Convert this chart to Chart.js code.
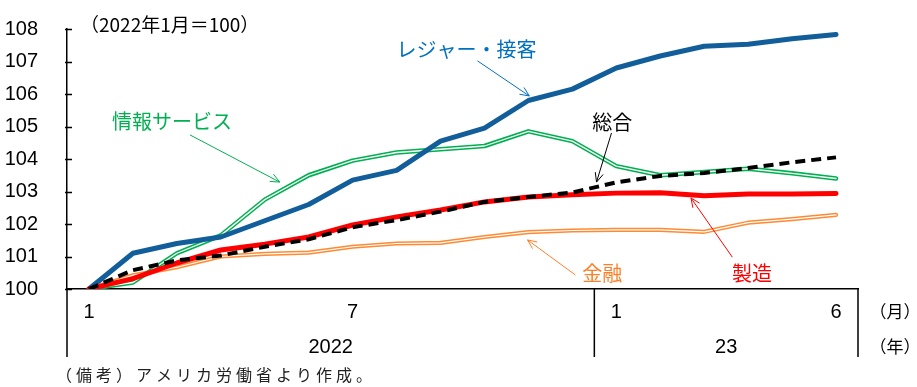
<!DOCTYPE html>
<html lang="ja">
<head>
<meta charset="utf-8">
<script src="https://cdn.jsdelivr.net/npm/chart.js@4.4.1/dist/chart.umd.min.js"></script>
<style>
  body { margin: 0; background: #fff; }
  #wrap { width: 917px; height: 387px; position: relative; }
</style>
</head>
<body>
<div id="wrap"><canvas id="emp-chart"></canvas></div>
<script>
// 2022/1 - 2023/6, index 2022/1 = 100
const months = ['1','2','3','4','5','6','7','8','9','10','11','12','1','2','3','4','5','6'];
const shownMonths = [0, 6, 12, 17];
const yearLabels = ['2022', '23'];
const yearStart = [0, 12];
const yTicks = [100, 101, 102, 103, 104, 105, 106, 107, 108];

const leisure = [100, 101.1, 101.4, 101.6, 102.1, 102.6, 103.35, 103.65, 104.55, 104.95, 105.8, 106.15, 106.8, 107.17, 107.47, 107.53, 107.7, 107.83];
const info    = [100, 100.2, 101.1, 101.65, 102.75, 103.5, 103.95, 104.2, 104.3, 104.4, 104.85, 104.55, 103.78, 103.5, 103.6, 103.7, 103.56, 103.4];
const total   = [100, 100.58, 100.88, 101.03, 101.3, 101.53, 101.9, 102.12, 102.38, 102.68, 102.83, 102.97, 103.28, 103.48, 103.57, 103.72, 103.9, 104.05];
const mfg     = [100, 100.32, 100.8, 101.2, 101.38, 101.6, 101.97, 102.22, 102.43, 102.68, 102.83, 102.9, 102.95, 102.96, 102.87, 102.92, 102.92, 102.94];
const finance = [100, 100.42, 100.67, 101.0, 101.08, 101.12, 101.3, 101.4, 101.42, 101.6, 101.75, 101.8, 101.82, 101.82, 101.76, 102.04, 102.15, 102.28];

const NARROW = "'Liberation Sans Narrow', 'Arial Narrow', 'Liberation Sans', sans-serif";
const JP = "'Noto Sans CJK JP', sans-serif";

// series labels with arrows, placed in data units (category index, value)
const notes = [
  { text: 'レジャー・接客', color: '#0070c0', at: [8.59, 107.38], from: [8.84, 107.02], to: [10.02, 105.94] },
  { text: '情報サービス',   color: '#00b050', at: [1.89, 105.17], from: [2.3, 104.74],  to: [4.34, 103.29] },
  { text: '総合',           color: '#000000', at: [11.91, 105.14], from: [11.89, 104.8], to: [11.55, 103.29] },
  { text: '製造',           color: '#ff0000', at: [15.09, 100.49], from: [14.64, 100.98], to: [13.7, 102.8] },
  { text: '金融',           color: '#ff7f27', at: [11.68, 100.49], from: [11.07, 100.43], to: [9.98, 101.51] }
];

function arrow(ctx, x1, y1, x2, y2) {
  const ang = Math.atan2(y2 - y1, x2 - x1), len = 10, spread = 0.42;
  ctx.beginPath();
  ctx.moveTo(x1, y1); ctx.lineTo(x2, y2);
  ctx.moveTo(x2 - len * Math.cos(ang - spread), y2 - len * Math.sin(ang - spread));
  ctx.lineTo(x2, y2);
  ctx.lineTo(x2 - len * Math.cos(ang + spread), y2 - len * Math.sin(ang + spread));
  ctx.stroke();
}

const frame = {
  id: 'frame',
  afterDraw(chart) {
    const { ctx, chartArea: a, scales: { x, y } } = chart;
    const low = chart.height - 30;
    ctx.save();

    // axis extension, tick marks and the month/year box lines
    ctx.strokeStyle = '#000';
    ctx.lineWidth = 1.5;
    ctx.beginPath();
    yTicks.forEach(v => {
      const py = Math.round(y.getPixelForValue(v)) + 0.5;
      ctx.moveTo(a.left - 2, py); ctx.lineTo(a.left + 5, py);
    });
    const bounds = yearStart.map((s, i) => i === 0 ? a.left : (x.getPixelForValue(s - 1) + x.getPixelForValue(s)) / 2);
    bounds.push(a.right);
    bounds.forEach(px => { ctx.moveTo(px, a.bottom); ctx.lineTo(px, low); });
    ctx.stroke();

    // year row
    ctx.fillStyle = '#000';
    ctx.font = '20px ' + NARROW;
    ctx.textAlign = 'center';
    ctx.textBaseline = 'middle';
    yearLabels.forEach((t, i) => ctx.fillText(t, (bounds[i] + bounds[i + 1]) / 2, 347));

    ctx.font = '17px ' + JP;
    ctx.fillText('（月）', a.right + 37, 312);
    ctx.fillText('（年）', a.right + 37, 347);

    // base note and source
    ctx.textAlign = 'left';
    ctx.font = "19px 'Liberation Sans Narrow', 'Arial Narrow', " + JP;
    ctx.fillText('（2022年1月＝100）', a.left + 13, 25);

    ctx.fillStyle = '#222';
    ctx.font = '16px ' + JP;
    ctx.letterSpacing = '4px';
    ctx.fillText('（備考）アメリカ労働省より作成。', 56, 375);
    ctx.letterSpacing = '0px';

    // series labels
    ctx.textAlign = 'center';
    ctx.lineWidth = 1;
    notes.forEach(n => {
      ctx.fillStyle = n.color;
      ctx.strokeStyle = n.color;
      ctx.font = '20px ' + JP;
      ctx.fillText(n.text, x.getPixelForValue(n.at[0]), y.getPixelForValue(n.at[1]));
      arrow(ctx,
        x.getPixelForValue(n.from[0]), y.getPixelForValue(n.from[1]),
        x.getPixelForValue(n.to[0]), y.getPixelForValue(n.to[1]));
    });
    ctx.restore();
  }
};

const line = (data, color, width, dash) => ({
  data, borderColor: color, borderWidth: width, borderDash: dash || [],
  pointRadius: 0, fill: false, tension: 0,
  borderCapStyle: dash ? 'butt' : 'round', borderJoinStyle: 'round'
});

// first dataset is drawn on top; white inner strokes give the double lines
new Chart(document.getElementById('emp-chart'), {
  type: 'line',
  data: {
    labels: months,
    datasets: [
      line(total, '#000000', 4, [10, 6]),
      line(mfg, '#ff0000', 5),
      line(leisure, '#115e9b', 5),
      line(info, '#ffffff', 1.3),
      line(info, '#00b050', 4.5),
      line(finance, '#ffffff', 1.2),
      line(finance, '#ff8a33', 4.2)
    ]
  },
  options: {
    responsive: true,
    maintainAspectRatio: false,
    animation: false,
    events: [],
    layout: { padding: { top: 29, right: 59, left: 0, bottom: 0 } },
    plugins: { legend: { display: false }, tooltip: { enabled: false } },
    scales: {
      x: {
        offset: true,
        grid: { display: false, drawTicks: false },
        border: { display: true, color: '#000', width: 1.5 },
        afterFit(scale) { scale.height = 98; },
        ticks: {
          autoSkip: false,
          maxRotation: 0,
          padding: 11,
          color: '#000',
          font: { family: NARROW, size: 20 },
          callback: (v, i) => shownMonths.includes(i) ? months[i] : ''
        }
      },
      y: {
        min: 100,
        max: 108,
        grid: { display: false, drawTicks: false },
        border: { display: true, color: '#000', width: 1.5 },
        afterFit(scale) {
          scale.width = 67;
          scale.paddingTop = 0;
          scale.paddingBottom = 0;
        },
        ticks: {
          stepSize: 1,
          padding: 29,
          color: '#000',
          font: { family: NARROW, size: 20 }
        }
      }
    }
  },
  plugins: [frame]
});
</script>
</body>
</html>
